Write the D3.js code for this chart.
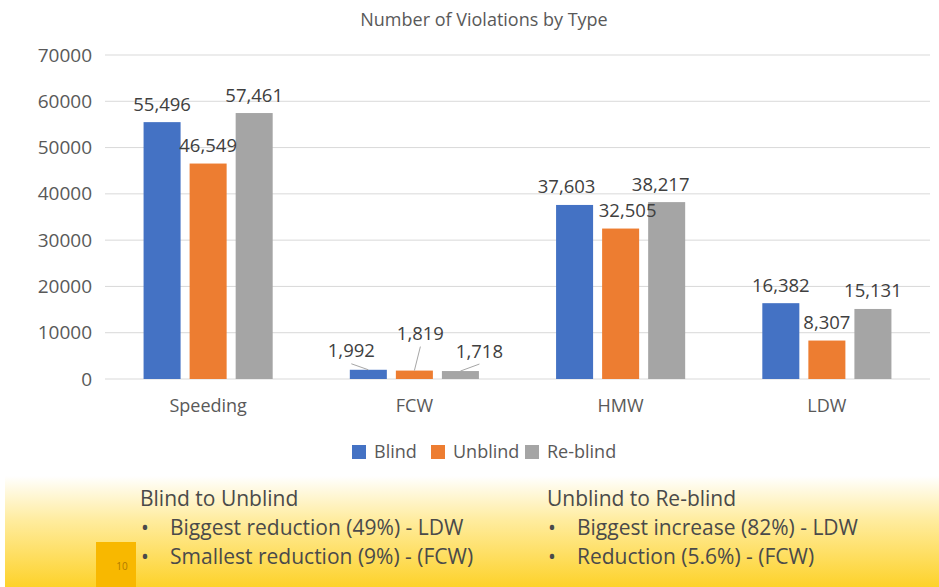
<!DOCTYPE html>
<html>
<head>
<meta charset="utf-8">
<script src="https://cdn.jsdelivr.net/npm/d3@7"></script>
<style>
  html, body { margin: 0; padding: 0; background: #fff; }
  svg { display: block; font-family: "Open Sans", sans-serif; }
</style>
</head>
<body>
<div id="chart"></div>
<script>
// chart data
var categories = ["Speeding", "FCW", "HMW", "LDW"];
var seriesNames = ["Blind", "Unblind", "Re-blind"];
var blind = [55496, 1992, 37603, 16382];
var unblind = [46549, 1819, 32505, 8307];
var reblind = [57461, 1718, 38217, 15131];
var yTicks = [0, 10000, 20000, 30000, 40000, 50000, 60000, 70000];

var notesLeft = ["Biggest reduction (49%) - LDW", "Smallest reduction (9%) - (FCW)"];
var notesRight = ["Biggest increase (82%) - LDW", "Reduction (5.6%) - (FCW)"];

var width = 939, height = 587;
var colors = ["#4472C4", "#ED7D31", "#A5A5A5"];
var textColor = "#595959";

// excel moved some labels around, copy that
var labelNudge = {
  "FCW|0": {dx: -17, dy: -1, leader: true},
  "FCW|1": {dx: 6, dy: -19, leader: true},
  "FCW|2": {dx: 19, dy: -2, leader: true},
  "HMW|0": {dx: -8, dy: 0},
  "HMW|1": {dx: 7, dy: 0},
  "HMW|2": {dx: -6, dy: 0}
};

var svg = d3.select("#chart").append("svg")
  .attr("width", width).attr("height", height);

// bottom panel
var defs = svg.append("defs");
var grad = defs.append("linearGradient").attr("id", "panelGrad")
  .attr("x1", 0).attr("y1", 0).attr("x2", 0).attr("y2", 1);
grad.append("stop").attr("offset", "0%").attr("stop-color", "#ffffff");
grad.append("stop").attr("offset", "40%").attr("stop-color", "#FFEC9E");
grad.append("stop").attr("offset", "100%").attr("stop-color", "#FDD22A");

svg.append("rect").attr("x", 5).attr("y", 476).attr("width", width - 5).attr("height", height - 476)
  .style("fill", "url(#panelGrad)");

svg.append("rect").attr("x", 96).attr("y", 542).attr("width", 40).attr("height", 45)
  .style("fill", "#F8B800");
svg.append("text").attr("x", 122).attr("y", 570).attr("text-anchor", "middle")
  .style("font-size", "10px").style("fill", "#B07A00").text("10");

function notes(x, head, lines) {
  var g = svg.append("g").style("fill", "#4a4a4a").style("font-size", "21px");
  g.append("text").attr("x", x).attr("y", 506).text(head);
  lines.forEach(function(t, i) {
    g.append("text").attr("x", x + 1).attr("y", 535 + i * 29).text("\u2022");
    g.append("text").attr("x", x + 30).attr("y", 535 + i * 29).text(t);
  });
}
notes(140, "Blind to Unblind", notesLeft);
notes(547, "Unblind to Re-blind", notesRight);

// chart
var plot = {left: 105, right: 930, top: 55, bottom: 379};

svg.append("text").attr("x", 484).attr("y", 26).attr("text-anchor", "middle")
  .style("font-size", "18px").style("fill", textColor).text("Number of Violations by Type");

var x0 = d3.scaleBand().domain(categories).range([plot.left, plot.right]).paddingInner(0.374).paddingOuter(0.187);
var x1 = d3.scaleBand().domain(d3.range(seriesNames.length)).range([0, x0.bandwidth()]).paddingInner(0.196);
var y = d3.scaleLinear().domain([0, 70000]).range([plot.bottom, plot.top]);

svg.append("g").selectAll("line").data(yTicks).enter().append("line")
  .attr("x1", plot.left).attr("x2", plot.right)
  .attr("y1", function(d) { return y(d); }).attr("y2", function(d) { return y(d); })
  .style("stroke", "#D9D9D9").style("stroke-width", 1);

var yAxis = svg.append("g").attr("transform", "translate(" + (plot.left - 13) + ",0)")
  .call(d3.axisLeft(y).tickValues(yTicks).tickFormat(d3.format("d")).tickSize(0));
yAxis.select(".domain").remove();
yAxis.selectAll("text").style("font-size", "19px").style("fill", textColor)
  .style("font-family", "Open Sans, sans-serif").attr("x", 0);

var xAxis = svg.append("g").attr("transform", "translate(0," + plot.bottom + ")")
  .call(d3.axisBottom(x0).tickSize(0));
xAxis.select(".domain").remove();
xAxis.selectAll("text").style("font-size", "18px").style("fill", textColor)
  .style("font-family", "Open Sans, sans-serif").attr("y", 20);

var table = categories.map(function(c, i) {
  return {cat: c, values: [blind[i], unblind[i], reblind[i]]};
});

var groups = svg.append("g").selectAll("g").data(table).enter().append("g")
  .attr("transform", function(d) { return "translate(" + x0(d.cat) + ",0)"; });

groups.selectAll("rect").data(function(d) {
  return d.values.map(function(v, s) { return {cat: d.cat, s: s, v: v}; });
}).enter().append("rect")
  .attr("x", function(d) { return x1(d.s); })
  .attr("width", x1.bandwidth())
  .attr("y", function(d) { return y(d.v); })
  .attr("height", function(d) { return plot.bottom - y(d.v); })
  .style("fill", function(d) { return colors[d.s]; });

var labelData = [];
table.forEach(function(d) {
  d.values.forEach(function(v, s) {
    var n = labelNudge[d.cat + "|" + s] || {dx: 0, dy: 0};
    var bx = x0(d.cat) + x1(s) + x1.bandwidth() / 2;
    labelData.push({v: v, bx: bx, by: y(v), cx: bx + n.dx, cy: y(v) - 18 + n.dy, leader: n.leader});
  });
});

svg.append("g").selectAll("line").data(labelData.filter(function(d) { return d.leader; }))
  .enter().append("line")
  .attr("x1", function(d) { return d.bx; }).attr("y1", function(d) { return d.by; })
  .attr("x2", function(d) { return d.cx; }).attr("y2", function(d) { return d.cy + 13; })
  .style("stroke", "#A6A6A6").style("stroke-width", 1);

svg.append("g").selectAll("text").data(labelData).enter().append("text")
  .attr("x", function(d) { return d.cx; })
  .attr("y", function(d) { return d.cy; })
  .attr("dy", "0.35em")
  .attr("text-anchor", "middle")
  .style("font-size", "18.5px").style("fill", "#404040")
  .text(function(d) { return d3.format(",")(d.v); });

// legend
var legendX = [352, 431, 525];
var legend = svg.append("g").selectAll("g").data(seriesNames).enter().append("g")
  .attr("transform", function(d, i) { return "translate(" + legendX[i] + ",445)"; });
legend.append("rect").attr("width", 14).attr("height", 14)
  .style("fill", function(d, i) { return colors[i]; });
legend.append("text").attr("x", 22).attr("y", 7).attr("dy", "0.35em")
  .style("font-size", "18px").style("fill", textColor).text(function(d) { return d; });
</script>
</body>
</html>
